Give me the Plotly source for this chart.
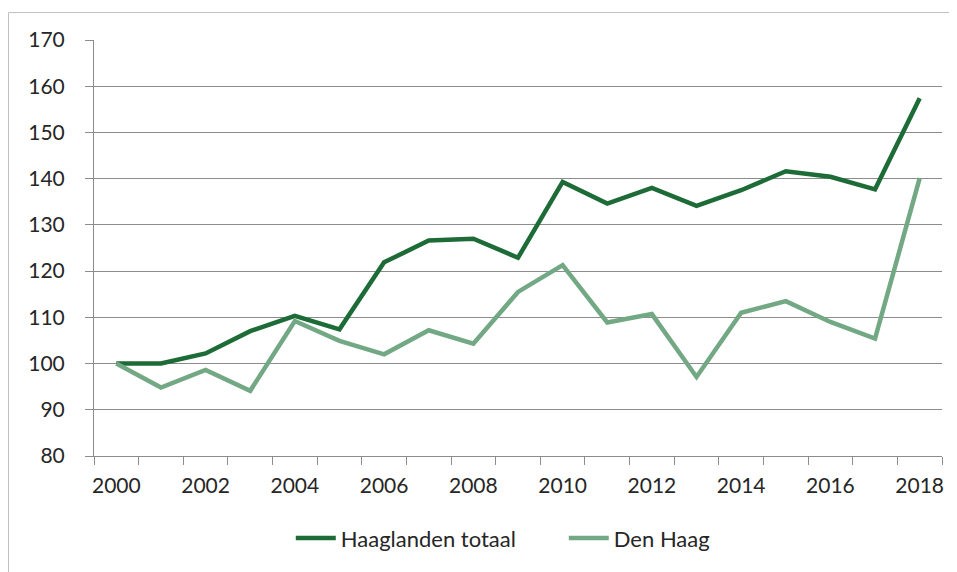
import plotly.graph_objects as go

years = [str(y) for y in range(2000, 2019)]
haaglanden = [100, 100, 102.2, 107.0, 110.3, 107.4, 121.9, 126.6, 127.0, 122.9,
              139.3, 134.6, 138.0, 134.1, 137.5, 141.6, 140.4, 137.7, 157.4]
den_haag = [100, 94.8, 98.6, 94.1, 109.2, 104.9, 102.0, 107.2, 104.3, 115.5,
            121.3, 108.9, 110.7, 97.1, 111.0, 113.5, 109.0, 105.4, 140.1]
tick_text = [y if i % 2 == 0 else "" for i, y in enumerate(years)]
y_ticks = list(range(80, 171, 10))

DARK = "#1D6B37"
LIGHT = "#72A883"
FONT = "Lato"
TXT = "#262626"
GRID = "#8C8C8C"

fig = go.Figure()
fig.add_trace(go.Scatter(x=years, y=haaglanden, mode="lines", name="Haaglanden totaal",
                         line=dict(color=DARK, width=4.5)))
fig.add_trace(go.Scatter(x=years, y=den_haag, mode="lines", name="Den Haag",
                         line=dict(color=LIGHT, width=4.5)))

# page body adds 8px offset; plot area in page coords: x 94-942, y 40-456
fig.update_layout(
    width=949, height=564,
    margin=dict(l=86, r=15, t=32, b=116, autoexpand=False),
    paper_bgcolor="white", plot_bgcolor="white",
    font=dict(family=FONT, size=21, color=TXT),
    showlegend=True,
    legend=dict(orientation="h", x=0.554, xanchor="center", y=-0.147, yanchor="top",
                font=dict(family=FONT, size=22, color=TXT), itemwidth=40,
                entrywidth=218, traceorder="normal"),
    xaxis=dict(type="category", categoryorder="array", categoryarray=years,
               tickvals=years, ticktext=tick_text, tickson="boundaries",
               tickangle=0, automargin=False,
               ticks="outside", ticklen=8, tickcolor=GRID, tickwidth=1,
               showline=True, linecolor=GRID, linewidth=1,
               showgrid=False, zeroline=False, ticklabelstandoff=11,
               tickfont=dict(family=FONT, size=21, color=TXT),
               range=[-0.5, 18.5]),
    yaxis=dict(range=[80, 170], tickvals=y_ticks, ticks="outside", ticklen=8,
               automargin=False,
               tickcolor=GRID, tickwidth=1, showline=True, linecolor=GRID, linewidth=1,
               showgrid=True, gridcolor=GRID, gridwidth=1, zeroline=False,
               ticklabelstandoff=16,
               tickfont=dict(family=FONT, size=21, color=TXT)),
)

fig.add_shape(type="rect", xref="paper", yref="paper",
              x0=-0.1008, x1=1.2, y0=-0.5, y1=1.066,
              line=dict(color="#BFBFBF", width=1), fillcolor="rgba(0,0,0,0)",
              layer="below")

fig.write_html("out.html")
